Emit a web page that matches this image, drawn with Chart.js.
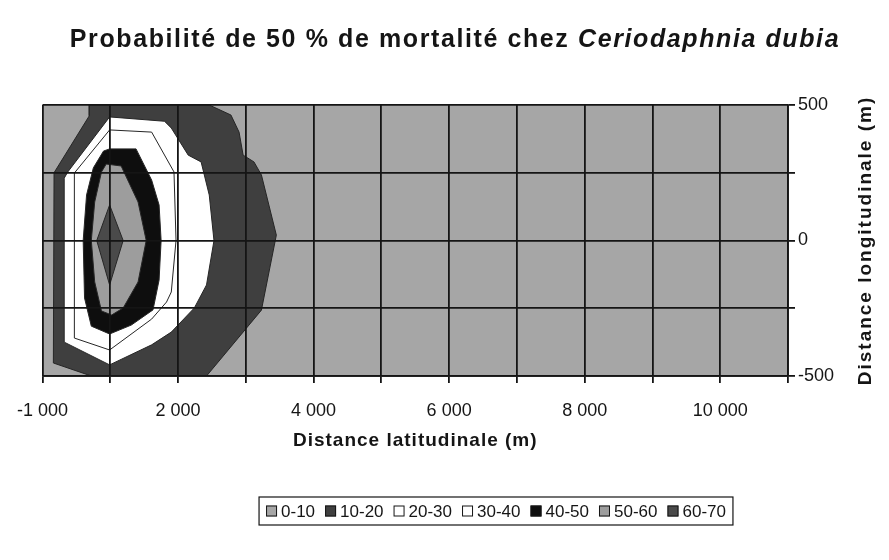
<!DOCTYPE html>
<html>
<head>
<meta charset="utf-8">
<script src="https://cdn.jsdelivr.net/npm/chart.js@4.4.1/dist/chart.umd.min.js"></script>
<style>
  body { margin: 0; background: #fff; }
  #wrap { width: 889px; height: 560px; }
</style>
</head>
<body>
<div id="wrap"><canvas id="contourChart" width="889" height="560"></canvas></div>
<script>
// x is the category index of the surface chart (0 = -1 000 m), y is metres
const xTickLabels = ['-1 000', '', '2 000', '', '4 000', '', '6 000', '', '8 000', '', '10 000', '']
const yTickLabels = [-500, 0, 500]

const bandLabels = ['0-10', '10-20', '20-30', '30-40', '40-50', '50-60', '60-70']
const bandColors = ['#a6a6a6', '#3f3f3f', '#ffffff', '#ffffff', '#0e0e0e', '#9d9d9d', '#4a4a4a']

// contour boundaries (region where mortality >= lower bound of the band)
const band0 = [[0, 500], [11, 500], [11, -500], [0, -500]]
const band10 = [[0.69, 500], [0.69, 460], [0.17, 250], [0.16, -452], [0.72, -500], [2.42, -500],
  [3.23, -257], [3.45, 20], [3.34, 131], [3.23, 242], [3.12, 290], [2.96, 315], [2.90, 400],
  [2.78, 463], [2.46, 500]]
const band20 = [[0.99, 456], [1.80, 440], [1.90, 415], [2.15, 315], [2.34, 290], [2.46, 168],
  [2.53, 0], [2.42, -164], [2.24, -249], [1.90, -338], [1.61, -385], [0.99, -459],
  [0.32, -375], [0.32, 230], [0.37, 252]]
const band30 = [[0.99, 408], [1.61, 400], [1.94, 253], [1.97, 0], [1.90, -190], [1.83, -227],
  [1.61, -290], [0.99, -404], [0.47, -360], [0.47, 249]]
const band40 = [[0.99, 338], [1.38, 338], [1.61, 223], [1.72, 131], [1.75, 0], [1.72, -146],
  [1.63, -256], [1.31, -312], [0.99, -345], [0.72, -316], [0.62, -212], [0.60, 0], [0.65, 168],
  [0.75, 268], [0.90, 330]]
const band50 = [[0.94, 282], [1.16, 275], [1.41, 142], [1.53, 0], [1.41, -153], [1.19, -249],
  [1.02, -275], [0.87, -260], [0.77, -153], [0.72, 0], [0.77, 142], [0.87, 253]]
const band60 = [[0.99, 131], [1.19, 0], [0.99, -164], [0.80, 0]]

const bands = [band0, band10, band20, band30, band40, band50, band60]

const FONT = "'Liberation Sans', Arial, sans-serif"
const INK = '#151515'

const datasets = bands.map((pts, i) => ({
  label: bandLabels[i],
  data: pts.concat([pts[0]]).map(p => ({ x: p[0], y: p[1] })),
  backgroundColor: bandColors[i],
  borderColor: i === 0 ? 'rgba(0,0,0,0)' : '#262626',
  borderWidth: i === 0 ? 0 : 1,
  pointRadius: 0,
  fill: false,
  tension: 0,
  order: bands.length - i
}))

// fill each contour polygon just before its outline is drawn
const polygonFill = {
  id: 'polygonFill',
  beforeDatasetDraw(chart, args) {
    const ctx = chart.ctx
    const ds = chart.data.datasets[args.index]
    const area = chart.chartArea
    ctx.save()
    ctx.beginPath()
    ctx.rect(area.left, area.top, area.right - area.left, area.bottom - area.top)
    ctx.clip()
    ctx.beginPath()
    args.meta.data.forEach((pt, k) => {
      if (k === 0) ctx.moveTo(pt.x, pt.y)
      else ctx.lineTo(pt.x, pt.y)
    })
    ctx.closePath()
    ctx.fillStyle = ds.backgroundColor
    ctx.fill()
    ctx.restore()
  }
}

// title with italic species name, axis titles, boxed legend
const decorations = {
  id: 'decorations',
  afterDraw(chart) {
    const ctx = chart.ctx
    const area = chart.chartArea
    ctx.save()

    // title
    const t1 = 'Probabilité de 50 % de mortalité chez '
    const t2 = 'Ceriodaphnia dubia'
    ctx.fillStyle = INK
    ctx.textBaseline = 'middle'
    ctx.letterSpacing = '1.6px'
    ctx.font = 'bold 25px ' + FONT
    const w1 = ctx.measureText(t1).width
    ctx.font = 'italic bold 25px ' + FONT
    const w2 = ctx.measureText(t2).width
    const tx = 455 - (w1 + w2) / 2
    ctx.font = 'bold 25px ' + FONT
    ctx.textAlign = 'left'
    ctx.fillText(t1, tx, 40)
    ctx.font = 'italic bold 25px ' + FONT
    ctx.fillText(t2, tx + w1, 40)

    // x axis title
    ctx.letterSpacing = '1px'
    ctx.font = 'bold 19px ' + FONT
    ctx.textAlign = 'center'
    ctx.fillText('Distance latitudinale (m)', (area.left + area.right) / 2, 441)

    // y axis title, reading bottom to top
    ctx.save()
    ctx.translate(866, (area.top + area.bottom) / 2)
    ctx.rotate(-Math.PI / 2)
    ctx.letterSpacing = '2px'
    ctx.font = 'bold 19px ' + FONT
    ctx.fillText('Distance longitudinale (m)', 0, 0)
    ctx.restore()

    // legend
    ctx.letterSpacing = '0px'
    ctx.font = '17px ' + FONT
    const sw = 11, gapIn = 4, gapOut = 10, pad = 7
    const items = chart.data.datasets.map(ds => ({ label: ds.label, color: ds.backgroundColor, w: ctx.measureText(ds.label).width }))
    const total = items.reduce((s, it) => s + sw + gapIn + it.w, 0) + gapOut * (items.length - 1)
    const cx = 496, cy = 511
    const bx = cx - total / 2 - pad
    ctx.strokeStyle = INK
    ctx.lineWidth = 1.2
    ctx.strokeRect(bx, cy - 14, total + pad * 2, 28)
    let x = cx - total / 2
    items.forEach(it => {
      ctx.fillStyle = it.color
      ctx.fillRect(x, cy - sw / 2, sw, sw)
      ctx.lineWidth = 1
      ctx.strokeRect(x + 0.5, cy - sw / 2 + 0.5, sw - 1, sw - 1)
      ctx.fillStyle = INK
      ctx.textAlign = 'left'
      ctx.fillText(it.label, x + sw + gapIn, cy + 1)
      x += sw + gapIn + it.w + gapOut
    })
    ctx.restore()
  }
}

new Chart(document.getElementById('contourChart'), {
  type: 'line',
  data: { datasets: datasets },
  options: {
    responsive: false,
    animation: false,
    layout: { padding: { left: 41, top: 105, right: 0, bottom: 104 } },
    plugins: { legend: { display: false }, tooltip: { enabled: false }, title: { display: false } },
    scales: {
      x: {
        type: 'linear',
        position: 'bottom',
        min: 0,
        max: 11,
        afterFit: s => { s.height = 80 },
        border: { color: INK, width: 1.8, z: 2 },
        grid: { color: INK, lineWidth: 1.8, tickLength: 7, z: 1 },
        ticks: {
          stepSize: 1,
          autoSkip: false,
          maxRotation: 0,
          padding: 17,
          color: INK,
          font: { family: FONT, size: 18 },
          callback: v => xTickLabels[v] ?? ''
        }
      },
      y: {
        type: 'linear',
        position: 'right',
        min: -500,
        max: 500,
        afterFit: s => { s.width = 101 },
        border: { color: INK, width: 1.8, z: 2 },
        grid: { color: INK, lineWidth: 1.8, tickLength: 7, z: 1 },
        ticks: {
          stepSize: 250,
          padding: 3,
          color: INK,
          font: { family: FONT, size: 18 },
          callback: v => yTickLabels.includes(v) ? String(v) : ''
        }
      }
    }
  },
  plugins: [polygonFill, decorations]
})
</script>
</body>
</html>
